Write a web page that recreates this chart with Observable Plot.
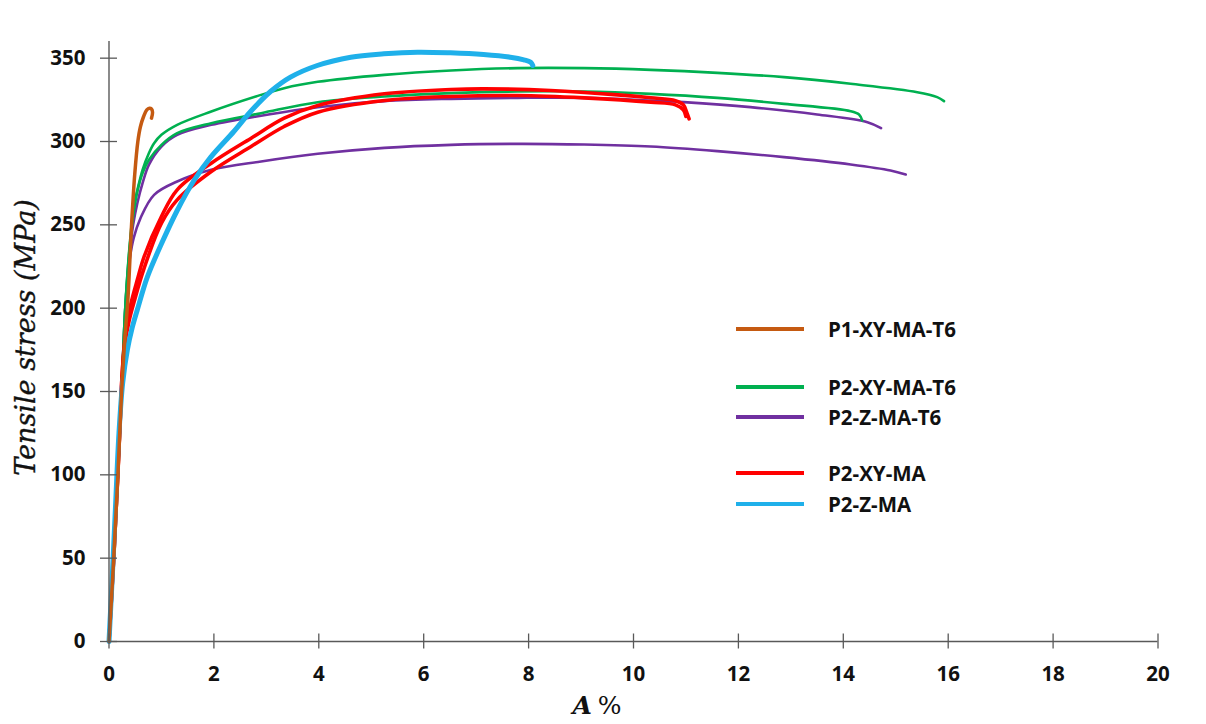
<!DOCTYPE html>
<html>
<head>
<meta charset="utf-8">
<script src="https://cdn.jsdelivr.net/npm/d3@7"></script>
<script src="https://cdn.jsdelivr.net/npm/@observablehq/plot@0.6"></script>
<style>
  body { margin: 0; background: #fff; }
  #wrap { position: relative; width: 1206px; height: 724px; overflow: hidden; }
  .legend { position: absolute; left: 0; top: 0; font-family: "Open Sans", sans-serif; font-weight: 700; color: #111; }
  .legend .row { position: absolute; display: flex; align-items: center; white-space: nowrap; transform: translateY(-50%); }
  .legend .sw { width: 68px; height: 4px; margin-right: 24px; }
</style>
</head>
<body>
<div id="wrap"></div>
<script>
// ---------------- data (strain A %, tensile stress MPa) ----------------
const seriesNames = ["P1-XY-MA-T6", "P2-XY-MA-T6", "P2-Z-MA-T6", "P2-XY-MA", "P2-Z-MA"];
const seriesColors = ["#C55A11", "#00B050", "#7030A0", "#FF0000", "#1FB0EA"];

const xTicks = [0, 2, 4, 6, 8, 10, 12, 14, 16, 18, 20];
const yTicks = [0, 50, 100, 150, 200, 250, 300, 350];

// P1-XY-MA-T6 (one specimen)
const p1XYT6_a = [[0,0],[0.09,50],[0.17,100],[0.24,150],[0.31,185],[0.36,205],[0.43,250],[0.49,280],[0.55,300],[0.6,309],[0.66,315],[0.72,319],[0.77,320],[0.81,319.5],[0.83,317.5],[0.81,314]];

// P2-XY-MA-T6 (two specimens)
const p2XYT6_a = [[0,0],[0.09,50],[0.17,100],[0.24,150],[0.31,200],[0.4,240],[0.48,262],[0.55,272],[0.64,283],[0.76,293],[0.86,299],[1.0,304],[1.3,310],[1.95,318],[2.8,327],[3.34,332],[3.98,335.8],[5.25,340],[6.52,342.6],[7.79,344],[9.06,344],[10.33,343],[11.6,341.2],[12.87,338.6],[14.14,334.6],[15.41,329.6],[15.79,326.6],[15.92,324.2]];
const p2XYT6_b = [[0,0],[0.09,50],[0.17,100],[0.24,150],[0.31,200],[0.39,235],[0.46,255],[0.54,270],[0.64,281],[0.76,289],[1.0,298],[1.3,305],[1.95,311],[2.9,317],[3.98,323.6],[5.25,327],[6.52,329],[7.79,330],[9.06,330],[10.33,328.6],[11.6,326.2],[12.87,322.6],[14.14,318.2],[14.3,316.2],[14.36,312.6]];

// P2-Z-MA-T6 (two specimens)
const p2ZT6_a = [[0,0],[0.09,50],[0.17,100],[0.24,150],[0.31,200],[0.39,232],[0.46,250],[0.54,263],[0.64,275],[0.76,286],[1.0,297],[1.3,304],[1.95,310],[2.9,315.5],[3.98,320.6],[5.25,324.2],[6.52,325.6],[7.79,326.2],[9.06,326.2],[10.33,324.6],[10.96,323.6],[12.23,320.6],[13.5,316.2],[14.46,311.6],[14.72,308]];
const p2ZT6_b = [[0,0],[0.09,50],[0.17,100],[0.24,150],[0.28,175],[0.32,200],[0.35,215],[0.38,226],[0.47,242],[0.6,254],[0.86,268],[1.3,276],[1.95,283],[2.9,288],[3.98,292.6],[5.25,296.2],[6.52,298],[7.79,298.6],[9.06,298.2],[10.33,297],[11.6,294.2],[12.87,290.6],[14.14,286.2],[14.9,282.6],[15.19,280.2]];

// P2-XY-MA (two specimens)
const p2XY_a = [[0,0],[0.09,50],[0.16,95],[0.21,130],[0.25,160],[0.3,180],[0.36,193],[0.42,203],[0.54,217],[0.67,231],[1.0,255],[1.3,271],[1.95,287],[2.71,302],[3.34,314],[3.98,321.6],[5.25,328.6],[6.52,331.2],[7.15,331.6],[8.42,330.6],[9.7,328],[10.33,326.2],[10.8,324.5],[10.95,322],[11.02,317],[11.06,313.6]];
const p2XY_b = [[0,0],[0.09,50],[0.16,95],[0.21,130],[0.25,160],[0.3,178],[0.38,192],[0.48,204],[0.67,224],[1.0,251],[1.3,265],[1.95,282],[2.71,297],[3.34,309],[3.98,317.6],[5.25,324.6],[6.52,327],[7.79,327.6],[9.06,326.2],[10.33,323.6],[10.8,322],[10.95,319],[11.0,315]];

// P2-Z-MA (one specimen)
const p2Z_a = [[0,0],[0.07,44],[0.13,85],[0.19,125],[0.26,155],[0.35,175],[0.44,188],[0.54,199],[0.73,218.6],[1.0,238.6],[1.3,258.6],[1.62,276.6],[1.94,290.6],[2.38,306],[2.7,318],[3.08,330],[3.46,338.6],[3.97,345.6],[4.61,350.6],[5.24,352.6],[5.88,353.6],[6.51,353.2],[7.14,352.2],[7.65,350.6],[7.91,349],[8.04,347.5],[8.08,345.6]];

// specimens in drawing order
const specimens = [
  {series: "P2-Z-MA-T6", id: "P2-Z-MA-T6 b", pts: p2ZT6_b},
  {series: "P2-Z-MA-T6", id: "P2-Z-MA-T6 a", pts: p2ZT6_a},
  {series: "P2-XY-MA-T6", id: "P2-XY-MA-T6 b", pts: p2XYT6_b},
  {series: "P2-XY-MA-T6", id: "P2-XY-MA-T6 a", pts: p2XYT6_a},
  {series: "P2-XY-MA", id: "P2-XY-MA b", pts: p2XY_b},
  {series: "P2-XY-MA", id: "P2-XY-MA a", pts: p2XY_a},
  {series: "P2-Z-MA", id: "P2-Z-MA a", pts: p2Z_a},
  {series: "P1-XY-MA-T6", id: "P1-XY-MA-T6 a", pts: p1XYT6_a}
];

// ---------------- styling ----------------
const widths = {"P1-XY-MA-T6": 3.5, "P2-XY-MA-T6": 2.6, "P2-Z-MA-T6": 2.6, "P2-XY-MA": 3.6, "P2-Z-MA": 5};
const legendRowsY = [329, 387, 417, 473, 504];

const rows = specimens.flatMap(s => s.pts.map(([x, y], i) => ({series: s.series, specimen: s.id, x, y, i})));
const colorOf = Object.fromEntries(seriesNames.map((n, i) => [n, seriesColors[i]]));

const lineMarks = specimens.map(s => Plot.line(rows.filter(r => r.specimen === s.id), {
  x: "x", y: "y", stroke: colorOf[s.series], strokeWidth: widths[s.series], curve: "catmull-rom", strokeLinecap: "round", strokeLinejoin: "round"
}));

const axisColor = "#595959";
const tickFont = {fill: "#111", fontSize: 20.5, fontWeight: 700, fontFamily: "Open Sans"};
const chart = Plot.plot({
  width: 1206,
  height: 724,
  marginTop: 41,
  marginLeft: 108.5,
  marginRight: 48.5,
  marginBottom: 83,
  style: {background: "white", fontFamily: "Open Sans, sans-serif"},
  x: {domain: [0, 20]},
  y: {domain: [0, 360]},
  marks: [
    ...lineMarks,
    Plot.ruleX([0], {stroke: axisColor, strokeWidth: 1.4}),
    Plot.ruleY([0], {stroke: axisColor, strokeWidth: 1.4}),
    Plot.axisY(yTicks, {tickSize: 17, dx: 8.5, tickPadding: 15, stroke: axisColor, strokeWidth: 1.3, ...tickFont, label: null}),
    Plot.axisX(xTicks, {tickSize: 15, dy: -7.5, tickPadding: 17, stroke: axisColor, strokeWidth: 1.3, ...tickFont, label: null}),
    Plot.text(["Tensile stress (MPa)"], {frameAnchor: "left", textAnchor: "middle", rotate: -90, dx: -83, dy: -4, text: d => d, fontFamily: "DejaVu Serif", fontStyle: "italic", fontSize: 27, fill: "#111", stroke: "#111", strokeWidth: 0.35})
  ]
});

const wrap = document.getElementById("wrap");
wrap.appendChild(chart);

// x-axis title with mixed styling
const svg = d3.select(chart);
const xt = svg.append("text")
  .attr("x", 597).attr("y", 714)
  .attr("text-anchor", "middle")
  .attr("font-family", "DejaVu Serif")
  .attr("font-size", 25)
  .attr("fill", "#111");
xt.append("tspan").attr("font-weight", 700).attr("font-style", "italic").text("A");
xt.append("tspan").attr("dx", 6).text("%");

// legend (HTML overlay)
const legend = document.createElement("div");
legend.className = "legend";
seriesNames.forEach((name, i) => {
  const row = document.createElement("div");
  row.className = "row";
  row.style.left = "736px";
  row.style.top = legendRowsY[i] + "px";
  row.style.fontSize = "20.5px";
  const sw = document.createElement("span");
  sw.className = "sw";
  sw.style.background = seriesColors[i];
  const tx = document.createElement("span");
  tx.textContent = name;
  row.appendChild(sw);
  row.appendChild(tx);
  legend.appendChild(row);
});
wrap.appendChild(legend);
</script>
</body>
</html>
